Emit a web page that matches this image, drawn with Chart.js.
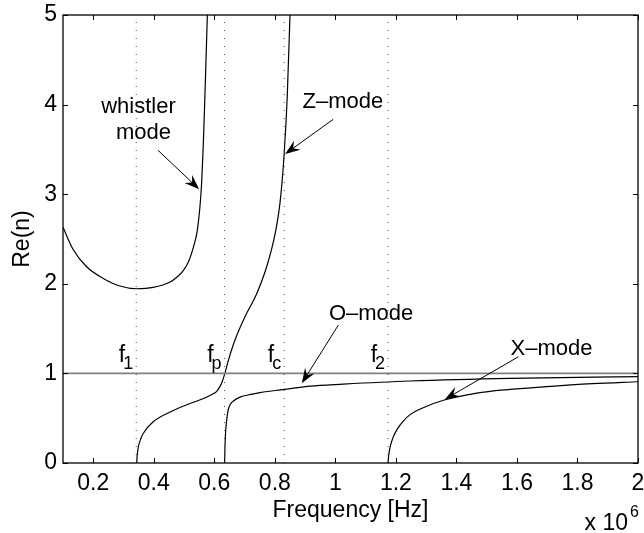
<!DOCTYPE html>
<html>
<head>
<meta charset="utf-8">
<script src="https://cdn.jsdelivr.net/npm/chart.js@4.4.1/dist/chart.umd.min.js"></script>
<style>
    html, body { margin: 0; padding: 0; background: #fff; }
    canvas { display: block; }
</style>
</head>
<body>
<canvas id="modesChart" width="644" height="533"></canvas>
<script>
// Tick labels
const xTickValues = [0.2, 0.4, 0.6, 0.8, 1, 1.2, 1.4, 1.6, 1.8, 2];
const yTickValues = [0, 1, 2, 3, 4, 5];

// Characteristic frequencies (x 10^6 Hz)
const cutoffFreqs = [0.342, 0.634, 0.831, 1.174];
const cutoffSubs = ['1', 'p', 'c', '2'];

// Whistler mode
const whistlerFreq = [0.1, 0.134, 0.178, 0.233, 0.288, 0.343, 0.398, 0.454, 0.475, 0.498, 0.515, 0.531, 0.542, 0.547, 0.553, 0.558, 0.563, 0.568, 0.573, 0.577];
const whistlerN = [2.63, 2.38, 2.19, 2.06, 1.975, 1.945, 1.96, 2.02, 2.07, 2.15, 2.25, 2.41, 2.56, 2.68, 2.88, 3.12, 3.5, 4.0, 4.55, 5.0];

// Z-mode
const zFreq = [0.3435, 0.345, 0.349, 0.357, 0.365, 0.398, 0.454, 0.509, 0.564, 0.595, 0.608, 0.618, 0.624, 0.635, 0.646, 0.668, 0.701, 0.74, 0.773, 0.801, 0.817, 0.831, 0.841, 0.85];
const zN = [0, 0.08, 0.18, 0.27, 0.33, 0.46, 0.57, 0.65, 0.72, 0.77, 0.8, 0.85, 0.89, 1.0, 1.14, 1.37, 1.63, 1.89, 2.19, 2.56, 2.9, 3.46, 4.09, 5.0];

// O-mode
const oFreq = [0.634, 0.635, 0.637, 0.641, 0.645, 0.652, 0.662, 0.685, 0.72, 0.751, 0.806, 0.839, 0.916, 1.026, 1.247, 1.577, 2.0];
const oN = [0, 0.15, 0.33, 0.48, 0.58, 0.65, 0.69, 0.735, 0.765, 0.785, 0.812, 0.825, 0.858, 0.88, 0.915, 0.945, 0.963];

// X-mode
const xFreq = [1.174, 1.176, 1.181, 1.19, 1.203, 1.222, 1.247, 1.3, 1.357, 1.467, 1.57, 1.687, 1.85, 2.0];
const xN = [0, 0.08, 0.18, 0.28, 0.37, 0.46, 0.54, 0.63, 0.7, 0.78, 0.82, 0.85, 0.885, 0.907];

// n = 1 reference line
const unityFreq = [0.1, 2];
const unityN = [1, 1];

const FONT = "'Liberation Sans', Arial, Helvetica, sans-serif";

function toPoints(xs, ys) {
    return xs.map((x, i) => ({ x: x, y: ys[i] }));
}

function curve(xs, ys) {
    return {
        data: toPoints(xs, ys),
        borderColor: '#000',
        borderWidth: 1.2,
        pointRadius: 0,
        cubicInterpolationMode: 'monotone',
        fill: false
    };
}

const datasets = [];
cutoffFreqs.forEach(f => {
    datasets.push({
        data: toPoints([f, f], [0, 5]),
        borderColor: '#444',
        borderWidth: 1,
        borderDash: [1, 7],
        pointRadius: 0,
        fill: false
    });
});
datasets.push({
    data: toPoints(unityFreq, unityN),
    borderColor: '#808080',
    borderWidth: 1.6,
    pointRadius: 0,
    fill: false
});
datasets.push(curve(whistlerFreq, whistlerN));
datasets.push(curve(zFreq, zN));
datasets.push(curve(oFreq, oN));
datasets.push(curve(xFreq, xN));

// Annotation text and arrows (data coordinates)
const notes = [
    { text: 'whistler', x: 0.3495, y: 3.906 },
    { text: 'mode', x: 0.366, y: 3.616 },
    { text: 'Z\u2013mode', x: 1.025, y: 3.962 },
    { text: 'O\u2013mode', x: 1.118, y: 1.596 },
    { text: 'X\u2013mode', x: 1.714, y: 1.205 }
];
const arrows = [
    { from: [0.414, 3.49], to: [0.550, 3.055] },
    { from: [0.993, 3.836], to: [0.834, 3.449] },
    { from: [1.010, 1.540], to: [0.889, 0.889] },
    { from: [1.605, 1.186], to: [1.362, 0.711] }
];

function drawArrow(ctx, x1, y1, x2, y2) {
    const ang = Math.atan2(y2 - y1, x2 - x1);
    const c = Math.cos(ang), s = Math.sin(ang);
    const len = 15, half = 5.5;
    ctx.beginPath();
    ctx.moveTo(x1, y1);
    ctx.lineTo(x2 - c * len * 0.6, y2 - s * len * 0.6);
    ctx.stroke();
    ctx.beginPath();
    ctx.moveTo(x2, y2);
    ctx.lineTo(x2 - c * len - s * half, y2 - s * len + c * half);
    ctx.lineTo(x2 - c * len * 0.65, y2 - s * len * 0.65);
    ctx.lineTo(x2 - c * len + s * half, y2 - s * len - c * half);
    ctx.closePath();
    ctx.fill();
}

const framePlugin = {
    id: 'frame',
    afterDatasetsDraw(chart) {
        const ctx = chart.ctx;
        const xs = chart.scales.x, ys = chart.scales.y;
        const a = chart.chartArea;
        ctx.save();
        ctx.strokeStyle = '#000';
        ctx.fillStyle = '#000';

        // box
        ctx.lineWidth = 1.3;
        ctx.strokeRect(a.left, a.top, a.right - a.left, a.bottom - a.top);

        // inward ticks on all four sides
        ctx.lineWidth = 1;
        ctx.beginPath();
        xTickValues.forEach(v => {
            const px = Math.round(xs.getPixelForValue(v)) + 0.5;
            ctx.moveTo(px, a.bottom); ctx.lineTo(px, a.bottom - 5);
            ctx.moveTo(px, a.top); ctx.lineTo(px, a.top + 5);
        });
        yTickValues.forEach(v => {
            const py = Math.round(ys.getPixelForValue(v)) + 0.5;
            ctx.moveTo(a.left, py); ctx.lineTo(a.left + 5, py);
            ctx.moveTo(a.right, py); ctx.lineTo(a.right - 5, py);
        });
        ctx.stroke();

        // mode labels
        ctx.font = '22px ' + FONT;
        ctx.textAlign = 'center';
        ctx.textBaseline = 'alphabetic';
        notes.forEach(n => {
            ctx.fillText(n.text, xs.getPixelForValue(n.x), ys.getPixelForValue(n.y));
        });

        // arrows
        ctx.lineWidth = 1;
        arrows.forEach(ar => {
            drawArrow(ctx,
                xs.getPixelForValue(ar.from[0]), ys.getPixelForValue(ar.from[1]),
                xs.getPixelForValue(ar.to[0]), ys.getPixelForValue(ar.to[1]));
        });

        // f labels next to the dotted lines
        const base = ys.getPixelForValue(1.13);
        cutoffFreqs.forEach((f, i) => {
            const px = xs.getPixelForValue(f) - 3;
            ctx.textAlign = 'right';
            ctx.font = '18px ' + FONT;
            ctx.fillText(cutoffSubs[i], px, base + 7.5);
            const subW = ctx.measureText(cutoffSubs[i]).width;
            ctx.font = '23px ' + FONT;
            ctx.fillText('f', px - subW + 2, base);
        });

        // exponent note under the x axis
        ctx.textAlign = 'right';
        ctx.font = '23px ' + FONT;
        ctx.fillText('x 10', 628, 530);
        ctx.textAlign = 'left';
        ctx.font = '16px ' + FONT;
        ctx.fillText('6', 630, 517);

        ctx.restore();
    }
};

function noScalePadding(scale) {
    scale.paddingLeft = 0;
    scale.paddingRight = 0;
    scale.paddingTop = 0;
    scale.paddingBottom = 0;
}

const ctx = document.getElementById('modesChart').getContext('2d');
new Chart(ctx, {
    type: 'line',
    data: { datasets: datasets },
    options: {
        responsive: false,
        animation: false,
        devicePixelRatio: 1,
        layout: {
            padding: { top: 15, right: 6, left: 0, bottom: 0 }
        },
        plugins: {
            legend: { display: false },
            tooltip: { enabled: false }
        },
        scales: {
            x: {
                type: 'linear',
                min: 0.1,
                max: 2,
                afterBuildTicks: scale => {
                    scale.ticks = xTickValues.map(v => ({ value: v }));
                },
                afterFit: scale => {
                    scale.height = 70;
                    noScalePadding(scale);
                },
                grid: { display: false, drawTicks: false },
                border: { display: false },
                ticks: {
                    autoSkip: false,
                    maxRotation: 0,
                    padding: 7,
                    color: '#000',
                    font: { family: FONT, size: 23 },
                    callback: v => String(v)
                },
                title: {
                    display: true,
                    text: 'Frequency [Hz]',
                    color: '#000',
                    font: { family: FONT, size: 23 },
                    padding: { top: 0, bottom: 9 }
                }
            },
            y: {
                min: 0,
                max: 5,
                afterBuildTicks: scale => {
                    scale.ticks = yTickValues.map(v => ({ value: v }));
                },
                afterFit: scale => {
                    scale.width = 63;
                    noScalePadding(scale);
                },
                grid: { display: false, drawTicks: false },
                border: { display: false },
                ticks: {
                    padding: 6,
                    color: '#000',
                    font: { family: FONT, size: 23 },
                    callback: v => String(v)
                },
                title: {
                    display: true,
                    text: 'Re(n)',
                    color: '#000',
                    font: { family: FONT, size: 23 },
                    padding: { top: 9, bottom: 0 }
                }
            }
        }
    },
    plugins: [framePlugin]
});
</script>
</body>
</html>
